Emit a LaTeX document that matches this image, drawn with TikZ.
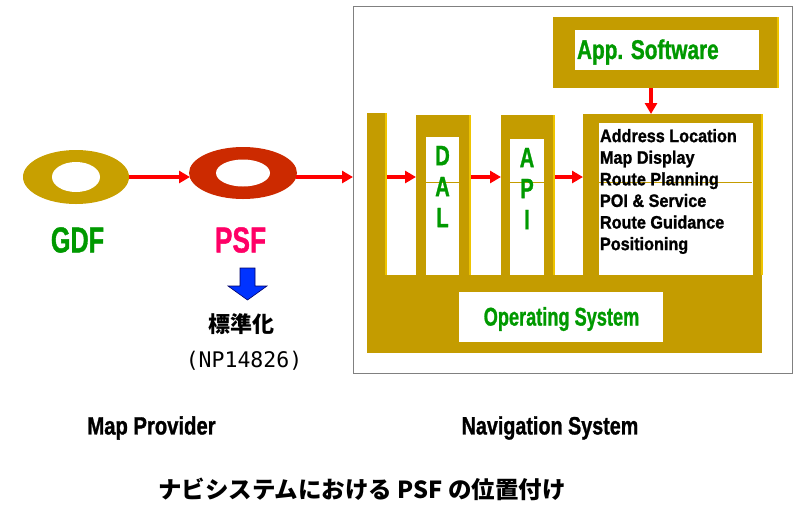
\documentclass[tikz,border=0pt]{standalone}
\usepackage{fontspec}
\setmainfont{Liberation Sans}[BoldFeatures={FakeBold=1.3}]
\newfontfamily\jpfont{Noto Sans CJK JP}
\newfontfamily\digitfont{DejaVu Sans Mono}
\usetikzlibrary{arrows.meta,shapes.geometric}
\definecolor{gold}{RGB}{196,156,0}
\definecolor{goldlit}{RGB}{238,196,0}
\definecolor{ringgold}{RGB}{200,160,0}
\definecolor{ringred}{RGB}{204,42,0}
\definecolor{labgreen}{RGB}{0,153,0}
\definecolor{labpink}{RGB}{255,0,102}
\definecolor{arrowred}{RGB}{255,0,0}
\definecolor{pushblue}{RGB}{0,51,255}
\newcommand{\sqz}[2]{\scalebox{#1}[1]{#2}}
\tikzset{
  box/.style={anchor=north west, inner sep=0, outer sep=0},
  goldbox/.style={box, fill=gold},
  whitebox/.style={box, fill=white},
  ring/.style={ellipse, inner sep=0, outer sep=0},
  txt/.style={inner sep=0, outer sep=0},
  redarrow/.style={draw=arrowred, line width=3.2pt, -{Triangle[length=11pt,width=12pt]}},
  litedge/.style={draw=goldlit, line width=2pt},
  midline/.style={draw=gold, line width=0.8pt},
}
\begin{document}
\begin{tikzpicture}[x=1pt,y=-1pt]
\useasboundingbox (0,0) rectangle (794,504);

% ---- map provider side: the two rings ----
\node[ring, fill=ringgold, minimum width=106pt, minimum height=54pt] (gdf) at (76,177) {};
\node[ring, fill=white, minimum width=48pt, minimum height=30pt] (gdfhole) at (gdf) {};
\node[ring, fill=ringred, minimum width=108pt, minimum height=52pt] (psf) at (243,173) {};
\node[ring, fill=white, minimum width=54pt, minimum height=27pt] (psfhole) at (psf) {};

\node[txt, font=\fontsize{36}{36}\selectfont\bfseries, text=labgreen] (gdflab) at (77.5,240) {\sqz{0.70}{GDF}};
\node[txt, font=\fontsize{36}{36}\selectfont\bfseries, text=labpink] (psflab) at (240.5,240) {\sqz{0.73}{PSF}};

% standardisation push-down arrow
\draw[fill=pushblue, draw=black!60!blue, line width=0.6pt]
  (240,268) -- (255,268) -- (255,286) -- (267,286) -- (247.5,300) -- (228,286) -- (240,286) -- cycle;
\node[txt, font=\jpfont\bfseries\fontsize{22}{22}\selectfont] (std) at (241,324) {標準化};
\node[txt, font=\digitfont\fontsize{21.5}{21.5}\selectfont] (np) at (244,361) {(NP14826)};

% ---- navigation system frame ----
\node[box, draw=black!50, line width=1pt, minimum width=439pt, minimum height=367pt] (nav) at (353,6) {};

% application software
\node[goldbox, minimum width=226pt, minimum height=71pt] (app) at (553,17) {};
\node[whitebox, minimum width=184pt, minimum height=40pt] (appin) at (575,30) {};
\draw[litedge] ([xshift=-1pt]app.north east) -- ([xshift=-1pt]app.south east);
\node[txt, anchor=west, font=\fontsize{27}{27}\selectfont\bfseries, text=labgreen] (applab) at (577,52) {\sqz{0.77}{App. Software}};

% columns standing on the base
\node[goldbox, minimum width=20pt, minimum height=162pt] (lbar) at (367,113) {};
\node[goldbox, minimum width=55pt, minimum height=160pt] (dal) at (416,115) {};
\node[whitebox, minimum width=33pt, minimum height=138pt] (dalin) at (426,137) {};
\node[goldbox, minimum width=54pt, minimum height=160pt] (api) at (501,115) {};
\node[whitebox, minimum width=34pt, minimum height=138pt] (apiin) at (510,139) {};
\node[goldbox, minimum width=180pt, minimum height=161pt] (fun) at (583,114) {};
\node[whitebox, minimum width=154pt, minimum height=154pt] (funin) at (599,123) {};

% operating system base
\node[goldbox, minimum width=395pt, minimum height=78pt] (os) at (367,275) {};
\node[whitebox, minimum width=204pt, minimum height=50pt] (osin) at (459,292) {};
\node[txt, font=\fontsize{25.6}{25.6}\selectfont\bfseries, text=labgreen] (oslab) at (561.5,319) {\sqz{0.71}{Operating System}};

% lit right edges of the columns
\draw[litedge] ([xshift=-1pt]lbar.north east) -- ([xshift=-1pt]lbar.south east);
\draw[litedge] ([xshift=-1pt]dal.north east) -- ([xshift=-1pt]dal.south east);
\draw[litedge] ([xshift=-1pt]api.north east) -- ([xshift=-1pt]api.south east);
\draw[litedge] ([xshift=-1pt]fun.north east) -- ([xshift=-1pt]fun.south east);

% thin middle lines across the white panels
\coordinate (mid) at (0,182);
\draw[midline] (dalin.west |- mid) -- (dalin.east |- mid);
\draw[midline] (apiin.west |- mid) -- (apiin.east |- mid);
\draw[midline] (funin.west |- mid) -- ([xshift=-1pt]funin.east |- mid);

% layer labels
\node[txt, anchor=north, font=\fontsize{28}{31}\selectfont\bfseries, text=labgreen] (dallab) at (442.5,143.5)
  {\sqz{0.72}{\begin{tabular}{@{}c@{}}D\\A\\L\end{tabular}}};
\node[txt, anchor=north, font=\fontsize{28}{31}\selectfont\bfseries, text=labgreen] (apilab) at (527,145.5)
  {\sqz{0.72}{\begin{tabular}{@{}c@{}}A\\P\\I\end{tabular}}};
\node[txt, anchor=north west, font=\fontsize{18}{21.6}\selectfont\bfseries] (funlab) at (600,127)
  {\sqz{0.90}{\begin{tabular}{@{}l@{}}Address Location\\Map Display\\Route Planning\\POI \& Service\\Route Guidance\\Positioning\end{tabular}}};

% data flow
\coordinate (flow) at (0,177);
\draw[redarrow] (gdf.east |- flow) -- ([xshift=1pt]psf.west |- flow);
\draw[redarrow] ([xshift=-1pt]psf.east |- flow) -- (nav.west |- flow);
\draw[redarrow] (lbar.east |- flow) -- (dal.west |- flow);
\draw[redarrow] (dal.east |- flow) -- (api.west |- flow);
\draw[redarrow] (api.east |- flow) -- (fun.west |- flow);
\coordinate (drop) at (651,0);
\draw[redarrow] (app.south -| drop) -- (fun.north -| drop);

% captions
\node[txt, font=\fontsize{25}{25}\selectfont\bfseries] (mp) at (151.5,428) {\sqz{0.81}{Map Provider}};
\node[txt, font=\fontsize{25}{25}\selectfont\bfseries] (ns) at (550,428) {\sqz{0.79}{Navigation System}};
\node[txt, font=\jpfont\bfseries\fontsize{23.5}{23.5}\selectfont] (title) at (362,489) {ナビシステムにおける PSF の位置付け};
\end{tikzpicture}
\end{document}
